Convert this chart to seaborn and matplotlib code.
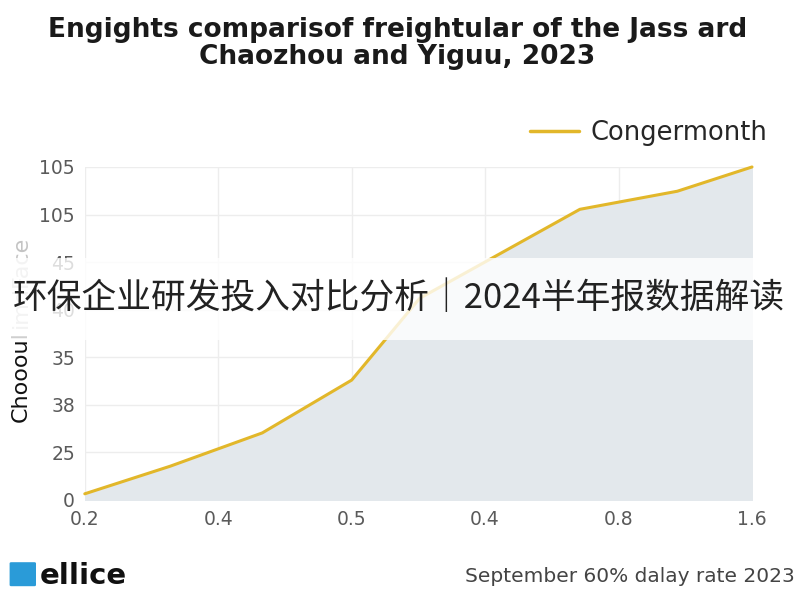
import numpy as np
import pandas as pd
import seaborn as sns
import matplotlib.pyplot as plt
from matplotlib.patches import Rectangle, FancyBboxPatch

# data, in tick-slot units (the tick labels are not monotonic)
x_labels = ["0.2", "0.4", "0.5", "0.4", "0.8", "1.6"]
y_labels = ["0", "25", "38", "35", "40", "45", "105", "105"]
x_pos = [0.0, 0.64, 1.33, 2.0, 2.51, 3.71, 4.44, 5.0]
y_val = [0.13, 0.71, 1.41, 2.52, 4.24, 6.11, 6.49, 7.0]
series_name = "Congermonth"

title_1 = "Engights comparisof freightular of the Jass ard"
title_2 = "Chaozhou and Yiguu, 2023"
banner = "环保企业研发投入对比分析｜2024半年报数据解读"
footer = "September 60% dalay rate 2023"

df = pd.DataFrame({"x": x_pos, "y": y_val, "series": series_name})

sns.set_theme(style="whitegrid")
plt.rcParams['font.family'] = ['DejaVu Sans']

fig = plt.figure(figsize=(8, 6), dpi=100)
ax = fig.add_axes([0.106, 0.1667, 0.834, 0.555])

line_col = "#E2B72A"
ax.fill_between(x_pos, y_val, 0, color="#E3E8EC", zorder=1)
sns.lineplot(data=df, x="x", y="y", hue="series", palette=[line_col],
             linewidth=2.2, ax=ax, zorder=3, legend=False)
for s in ax.lines:
    s.set_clip_on(False)

ax.set_xlim(0, 5)
ax.set_ylim(0, 7)
ax.set_xticks(range(len(x_labels)))
ax.set_xticklabels(x_labels)
ax.set_yticks(range(len(y_labels)))
ax.set_yticklabels(y_labels)
ax.tick_params(axis="both", labelsize=13.5, labelcolor="#5a5a5a", length=0)
ax.tick_params(axis="x", pad=7)
ax.tick_params(axis="y", pad=7)
ax.grid(color="#EDEDED", linewidth=1)
for sp in ax.spines.values():
    sp.set_visible(False)
ax.set_xlabel("")
ax.set_ylabel("")

# legend above the plot, top right
ax.plot([], [], color=line_col, linewidth=2.5, label=series_name)
ax.legend(loc="lower right", bbox_to_anchor=(1.058, 0.995), frameon=False,
          fontsize=18.5, handlelength=1.9, handletextpad=0.45)

# y label in two tones
fig.text(0.026, 0.372, "Choooul", rotation=90, fontsize=16, color="#111111",
         ha="center", va="center")
fig.text(0.026, 0.53, "imdFace", rotation=90, fontsize=16, color="#C4C4C4",
         ha="center", va="center")

fig.text(0.497, 0.95, title_1, ha="center", va="center", fontsize=19,
         fontweight="bold", color="#1a1a1a")
fig.text(0.497, 0.905, title_2, ha="center", va="center", fontsize=19,
         fontweight="bold", color="#1a1a1a")

# overlay banner
fig.patches.append(Rectangle((0, 0.433), 1, 0.137, transform=fig.transFigure,
                             facecolor="white", alpha=0.8, edgecolor="none", zorder=5))
fig.text(0.498, 0.502, banner, ha="center", va="center", fontsize=25,
         color="#222222", family=['Noto Sans CJK SC', 'DejaVu Sans'], zorder=6)

# footer logo + note
fig.patches.append(FancyBboxPatch((0.014, 0.025), 0.029, 0.036, boxstyle="round,pad=0.002",
                                  transform=fig.transFigure, facecolor="#2A9BD8",
                                  edgecolor="none"))
fig.text(0.05, 0.04, "ellice", fontsize=21, fontweight="bold", color="#111111",
         ha="left", va="center")
fig.text(0.994, 0.04, footer, fontsize=14.5, color="#444444", ha="right", va="center")

fig.savefig("out.png", dpi=100, facecolor="white")
